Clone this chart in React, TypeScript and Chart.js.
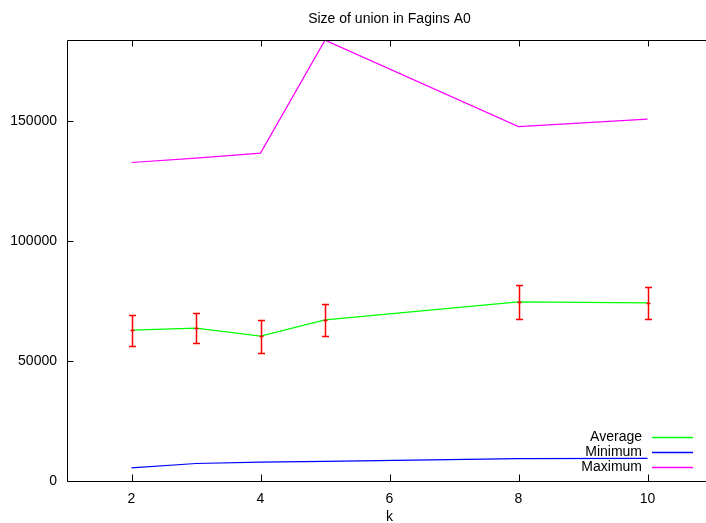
import React, { useEffect, useRef } from "react";
import { Chart, registerables } from "chart.js";

Chart.register(...registerables);

const kValues = [2, 3, 4, 5, 8, 10];
const averageValues = [62900, 63700, 60400, 67100, 74600, 74200];
const errorLow = [56300, 57500, 53300, 60400, 67500, 67500];
const errorHigh = [69200, 70100, 67100, 73600, 81600, 80800];
const minimumValues = [5500, 7300, 7900, 8200, 9300, 9400];
const maximumValues = [132700, 134500, 136600, 183700, 147700, 150800];
const xTickValues = [2, 4, 6, 8, 10];
const yTickValues = [0, 50000, 100000, 150000];
const titleText = "Size of union in Fagins A0";
const xAxisTitle = "k";
const legendLabels = ["Average", "Minimum", "Maximum"];
const seriesColors = ["#00ff00", "#0000ff", "#ff00ff"];
const errorColor = "#ff0000";

const FONT = '"Liberation Sans", Arial, Helvetica, sans-serif';
const CANVAS_W = 720;
const CANVAS_H = 523;

const gnuplotPlugin = {
  id: "gnuplotDecor",
  afterDatasetsDraw(chart: any) {
    const ctx = chart.ctx as CanvasRenderingContext2D;
    const { left, right, top, bottom } = chart.chartArea;
    const xs = chart.scales.x;
    const ys = chart.scales.y;
    ctx.save();

    // error bars
    ctx.strokeStyle = errorColor;
    ctx.lineWidth = 1.5;
    kValues.forEach((k, i) => {
      const px = Math.round(xs.getPixelForValue(k)) + 0.5;
      const yl = Math.round(ys.getPixelForValue(errorLow[i])) + 0.5;
      const yh = Math.round(ys.getPixelForValue(errorHigh[i])) + 0.5;
      const yc = Math.round(ys.getPixelForValue(averageValues[i])) + 0.5;
      ctx.beginPath();
      ctx.moveTo(px, yl);
      ctx.lineTo(px, yh);
      ctx.moveTo(px - 3.5, yl);
      ctx.lineTo(px + 3.5, yl);
      ctx.moveTo(px - 3.5, yh);
      ctx.lineTo(px + 3.5, yh);
      ctx.moveTo(px - 2, yc);
      ctx.lineTo(px + 2, yc);
      ctx.stroke();
    });

    // border
    ctx.strokeStyle = "#000";
    ctx.lineWidth = 1;
    const L = Math.round(left) + 0.5;
    const R = Math.round(right) + 0.5;
    const T = Math.round(top) + 0.5;
    const B = Math.round(bottom) + 0.5;
    ctx.beginPath();
    ctx.moveTo(L, T);
    ctx.lineTo(R, T);
    ctx.lineTo(R, B);
    ctx.lineTo(L, B);
    ctx.closePath();
    ctx.stroke();

    // inward ticks (mirrored)
    ctx.beginPath();
    xTickValues.forEach((v) => {
      const px = Math.round(xs.getPixelForValue(v)) + 0.5;
      ctx.moveTo(px, B);
      ctx.lineTo(px, B - 7);
      ctx.moveTo(px, T);
      ctx.lineTo(px, T + 6);
    });
    yTickValues.forEach((v) => {
      const py = Math.round(ys.getPixelForValue(v)) + 0.5;
      ctx.moveTo(L, py);
      ctx.lineTo(L + 6, py);
      ctx.moveTo(R, py);
      ctx.lineTo(R - 6, py);
    });
    ctx.stroke();

    // legend
    ctx.font = `14px ${FONT}`;
    ctx.textAlign = "right";
    ctx.textBaseline = "middle";
    const rowY = [437, 452, 467];
    legendLabels.forEach((label, i) => {
      ctx.fillStyle = "#000";
      ctx.fillText(label, 642, rowY[i]);
      ctx.strokeStyle = seriesColors[i];
      ctx.lineWidth = 1.5;
      ctx.beginPath();
      ctx.moveTo(652, rowY[i] + 0.5);
      ctx.lineTo(693, rowY[i] + 0.5);
      ctx.stroke();
    });

    // title
    ctx.textAlign = "center";
    ctx.textBaseline = "alphabetic";
    ctx.fillStyle = "#000";
    ctx.fillText(titleText, (left + right) / 2, 23);

    ctx.restore();
  },
};

export default function App() {
  const canvasRef = useRef<HTMLCanvasElement | null>(null);

  useEffect(() => {
    const canvas = canvasRef.current;
    if (!canvas) return;
    const makePoints = (vals: number[]) => kValues.map((k, i) => ({ x: k, y: vals[i] }));
    const tickFont = { family: FONT, size: 14 };
    const chart = new Chart(canvas, {
      type: "line",
      data: {
        datasets: [
          {
            label: legendLabels[0],
            data: makePoints(averageValues),
            borderColor: seriesColors[0],
            borderWidth: 1.2,
            pointRadius: 0,
            tension: 0,
            fill: false,
          },
          {
            label: legendLabels[1],
            data: makePoints(minimumValues),
            borderColor: seriesColors[1],
            borderWidth: 1.2,
            pointRadius: 0,
            tension: 0,
            fill: false,
          },
          {
            label: legendLabels[2],
            data: makePoints(maximumValues),
            borderColor: seriesColors[2],
            borderWidth: 1.2,
            pointRadius: 0,
            tension: 0,
            fill: false,
          },
        ],
      },
      options: {
        responsive: false,
        animation: false,
        devicePixelRatio: 1,
        layout: { padding: { top: 40, right: CANVAS_W - 712, bottom: 0, left: 0 } },
        plugins: {
          legend: { display: false },
          title: { display: false },
          tooltip: { enabled: false },
        },
        scales: {
          x: {
            type: "linear",
            min: 1,
            max: 11,
            grid: { display: false, drawTicks: false, tickLength: 0 },
            border: { display: false },
            ticks: {
              font: tickFont,
              color: "#000",
              padding: 10,
              maxRotation: 0,
              autoSkip: false,
              callback: (v: any) => String(v),
            },
            afterBuildTicks: (s: any) => {
              s.ticks = xTickValues.map((v) => ({ value: v }));
            },
            afterFit: (s: any) => {
              s.height = 42;
            },
            title: {
              display: true,
              text: xAxisTitle,
              color: "#000",
              font: { family: FONT, size: 14, lineHeight: 0.9 },
              padding: 0,
            },
          },
          y: {
            type: "linear",
            min: 0,
            max: 183750,
            grid: { display: false, drawTicks: false, tickLength: 0 },
            border: { display: false },
            ticks: {
              font: tickFont,
              color: "#000",
              padding: 10,
              includeBounds: false,
              callback: (v: any) => String(v),
            },
            afterBuildTicks: (s: any) => {
              s.ticks = yTickValues.map((v) => ({ value: v }));
            },
            afterFit: (s: any) => {
              s.width = 67;
            },
          },
        },
      },
      plugins: [gnuplotPlugin],
    } as any);
    return () => chart.destroy();
  }, []);

  return (
    <div
      style={{
        position: "fixed",
        left: 0,
        top: 0,
        width: 706,
        height: 523,
        overflow: "hidden",
        background: "#fff",
      }}
    >
      <canvas ref={canvasRef} width={CANVAS_W} height={CANVAS_H} style={{ display: "block" }} />
    </div>
  );
}
